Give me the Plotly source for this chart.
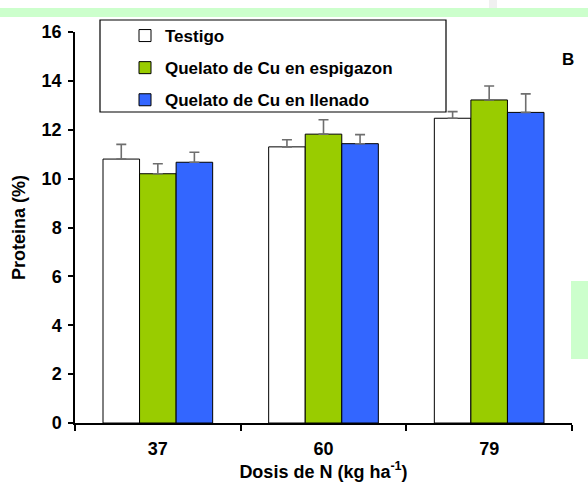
import plotly.graph_objects as go

# Dosis de N (kg/ha) and protein content (%) per treatment
dosis = ["37", "60", "79"]
testigo = [10.8, 11.3, 12.47]
testigo_err = [0.6, 0.29, 0.27]
espigazon = [10.2, 11.82, 13.22]
espigazon_err = [0.41, 0.59, 0.57]
llenado = [10.67, 11.43, 12.71]
llenado_err = [0.41, 0.37, 0.76]

series = [
    ("Testigo", testigo, testigo_err, "#ffffff"),
    ("Quelato de Cu en espigazon", espigazon, espigazon_err, "#99cc00"),
    ("Quelato de Cu en llenado", llenado, llenado_err, "#3366ff"),
]

FONT = "Arial, 'Liberation Sans', sans-serif"

fig = go.Figure()
for i, (name, vals, err, color) in enumerate(series):
    fig.add_trace(go.Bar(
        x=dosis, y=vals, name=name, legendgroup=f"g{i}",
        marker=dict(color=color, line=dict(color="#000000", width=1)),
        error_y=dict(type="data", symmetric=False, array=err,
                     arrayminus=[0] * len(err),
                     color="#6e6e6e", thickness=1.6, width=5),
    ))

# plot-area geometry in pixels, used to place paper-referenced decorations
W, H = 588, 488
L, R, T, B = 75, 16, 32, 65
pw, ph = W - L - R, H - T - B

def px(x):
    return (x - L) / pw

def py(y):
    return (H - B - y) / ph

shapes = [
    # light green band across the top
    dict(type="rect", xref="paper", yref="paper", x0=px(0), x1=px(W),
         y0=py(17), y1=py(8), fillcolor="#ccffcc", line=dict(width=0),
         layer="below"),
    dict(type="rect", xref="paper", yref="paper", x0=px(489), x1=px(497),
         y0=py(8), y1=py(0), fillcolor="#f0f0f0", line=dict(width=0),
         layer="below"),
    # light green block at the right edge
    dict(type="rect", xref="paper", yref="paper", x0=px(571), x1=px(W),
         y0=py(359), y1=py(281), fillcolor="#ccffcc", line=dict(width=0),
         layer="below"),
    # legend frame
    dict(type="rect", xref="paper", yref="paper", x0=px(100), x1=px(446),
         y0=py(112), y1=py(20), fillcolor="#ffffff",
         line=dict(color="#000000", width=1.2), layer="above"),
]

fig.update_layout(
    width=W, height=H,
    margin=dict(l=L, r=R, t=T, b=B),
    paper_bgcolor="#ffffff", plot_bgcolor="#ffffff",
    font=dict(family=FONT, size=18, color="#000000"),
    barmode="group", bargap=0.338, bargroupgap=0,
    showlegend=True,
    legend=dict(
        x=px(125), y=py(18), xanchor="left", yanchor="top",
        bgcolor="rgba(0,0,0,0)", borderwidth=0,
        traceorder="grouped", tracegroupgap=7,
        font=dict(family=FONT, size=17, color="#000000", weight="bold"),
    ),
    xaxis=dict(
        type="category", tickson="boundaries",
        showline=True, linecolor="#000000", linewidth=1.5,
        ticks="outside", ticklen=6, tickcolor="#000000", tickwidth=1.5,
        ticklabelstandoff=9,
        showgrid=False, zeroline=False,
        tickfont=dict(family=FONT, size=18, weight="bold"),
        title=dict(text="<b>Dosis de N (kg ha<sup>-1</sup>)</b>",
                   font=dict(family=FONT, size=18), standoff=2),
    ),
    yaxis=dict(
        range=[0, 16], tickvals=[0, 2, 4, 6, 8, 10, 12, 14, 16],
        showline=True, linecolor="#000000", linewidth=1.5,
        ticks="outside", ticklen=5, tickcolor="#000000", tickwidth=1.5,
        ticklabelstandoff=3,
        showgrid=False, zeroline=False,
        tickfont=dict(family=FONT, size=18, weight="bold"),
        title=dict(text="<b>Proteina (%)</b>",
                   font=dict(family=FONT, size=18), standoff=11),
    ),
    shapes=shapes,
    annotations=[
        dict(text="<b>B</b>", xref="paper", yref="paper", x=px(576),
             y=py(48), showarrow=False, font=dict(family=FONT, size=17)),
    ],
)

fig.write_html("out.html")
